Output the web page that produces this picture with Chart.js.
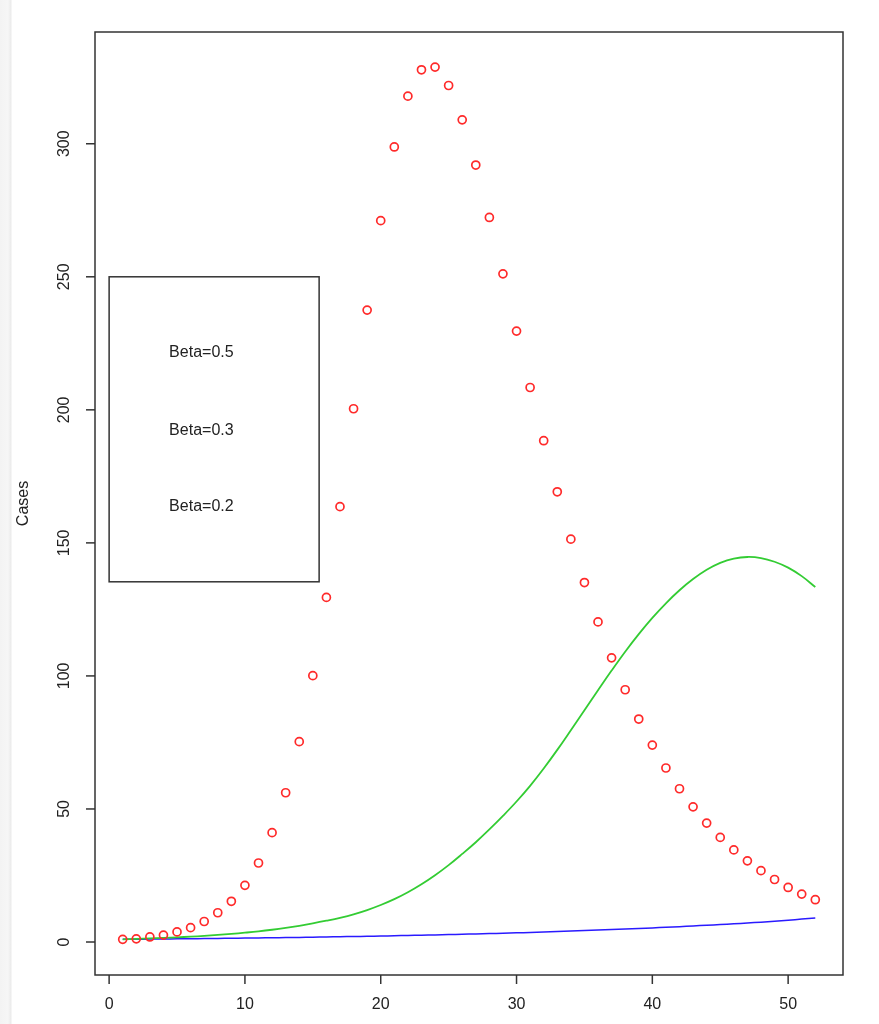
<!DOCTYPE html>
<html lang="en">
<head>
    <meta charset="UTF-8">
    <title>Cases</title>
    <script src="https://cdn.jsdelivr.net/npm/chart.js"></script>
    <style>
        html, body { margin: 0; padding: 0; background: #fff; }
        body { width: 879px; height: 1024px; overflow: hidden; position: relative; }
        .edge {
            position: absolute; left: 0; top: 0; width: 12px; height: 1024px;
            background: linear-gradient(to right, #f3f3f3 0, #f6f6f6 8px, #ebebeb 11px, #fff 12px);
        }
        canvas { position: absolute; left: 0; top: 0; }
    </style>
</head>
<body>
    <div class="edge"></div>
    <canvas id="casesChart" width="879" height="1024"></canvas>
    <script>
    // days 1..52
    const days = Array.from({ length: 52 }, (_, i) => i + 1);

    // Beta=0.5 (red points)
    const beta05 = [1.0, 1.2, 1.9, 2.6, 3.8, 5.4, 7.7, 11.0, 15.3, 21.3,
        29.7, 41.1, 56.1, 75.3, 100.1, 129.5, 163.6, 200.4, 237.5, 271.1,
        298.8, 317.9, 327.8, 328.8, 321.9, 309.0, 292.0, 272.3, 251.1, 229.6,
        208.4, 188.4, 169.2, 151.4, 135.1, 120.3, 106.8, 94.8, 83.8, 74.0,
        65.4, 57.6, 50.8, 44.7, 39.3, 34.6, 30.5, 26.8, 23.5, 20.5,
        18.0, 15.9];

    // Beta=0.3 (green line)
    const beta03 = [1.0, 1.15, 1.33, 1.53, 1.76, 2.0, 2.3, 2.65, 3.05, 3.5,
        4.0, 4.6, 5.3, 6.1, 7.0, 8.0, 9.1, 10.4, 12.0, 13.9,
        16.1, 18.7, 21.7, 25.1, 28.9, 33.1, 37.5, 42.3, 47.4, 52.8,
        58.7, 65.2, 72.2, 79.6, 87.1, 94.6, 102.0, 109.1, 115.7, 121.8,
        127.3, 132.2, 136.4, 139.9, 142.5, 144.1, 144.7, 144.3, 142.9, 140.7,
        137.5, 133.4];

    // Beta=0.2 (blue line)
    const beta02 = [1.00, 1.04, 1.09, 1.14, 1.19, 1.24, 1.29, 1.35, 1.41, 1.47,
        1.53, 1.60, 1.67, 1.74, 1.82, 1.90, 1.98, 2.07, 2.16, 2.25,
        2.35, 2.45, 2.56, 2.67, 2.79, 2.91, 3.04, 3.17, 3.31, 3.45,
        3.60, 3.76, 3.93, 4.10, 4.28, 4.47, 4.66, 4.87, 5.08, 5.30,
        5.53, 5.77, 6.03, 6.29, 6.56, 6.85, 7.15, 7.46, 7.79, 8.2,
        8.6, 9.0];

    const xTicks = [0, 10, 20, 30, 40, 50];
    const yTicks = [0, 50, 100, 150, 200, 250, 300];
    const legendLabels = ['Beta=0.5', 'Beta=0.3', 'Beta=0.2'];
    const yTitle = 'Cases';

    const toXY = arr => arr.map((v, i) => ({ x: days[i], y: v }));
    const FONT = '16px "Liberation Sans", Arial, sans-serif';

    // R-style box, axes and legend
    const rAxes = {
        id: 'rAxes',
        afterDraw(chart) {
            const { ctx, chartArea: a, scales: { x, y } } = chart;
            ctx.save();
            ctx.strokeStyle = '#333';
            ctx.lineWidth = 1.5;
            ctx.strokeRect(a.left, a.top, a.right - a.left, a.bottom - a.top);

            ctx.fillStyle = '#222';
            ctx.font = FONT;
            // x ticks
            ctx.textAlign = 'center';
            ctx.textBaseline = 'middle';
            xTicks.forEach(t => {
                const px = x.getPixelForValue(t);
                ctx.beginPath();
                ctx.moveTo(px, a.bottom);
                ctx.lineTo(px, a.bottom + 9);
                ctx.stroke();
                ctx.fillText(String(t), px, a.bottom + 30);
            });
            // y ticks
            yTicks.forEach(t => {
                const py = y.getPixelForValue(t);
                ctx.beginPath();
                ctx.moveTo(a.left, py);
                ctx.lineTo(a.left - 9, py);
                ctx.stroke();
                ctx.save();
                ctx.translate(a.left - 30, py);
                ctx.rotate(-Math.PI / 2);
                ctx.fillText(String(t), 0, 0);
                ctx.restore();
            });
            // y title
            ctx.save();
            ctx.translate(24, (a.top + a.bottom) / 2);
            ctx.rotate(-Math.PI / 2);
            ctx.fillText(yTitle, 0, 0);
            ctx.restore();

            // legend box at (0, 250)
            const lx = x.getPixelForValue(0);
            const ly = y.getPixelForValue(250);
            ctx.lineWidth = 1.5;
            ctx.strokeRect(lx, ly, 210, 305);
            ctx.textAlign = 'left';
            const rows = [ly + 76, ly + 154, ly + 230];
            legendLabels.forEach((txt, i) => ctx.fillText(txt, lx + 60, rows[i]));
            ctx.restore();
        }
    };

    const ctx = document.getElementById('casesChart').getContext('2d');
    new Chart(ctx, {
        type: 'scatter',
        data: {
            datasets: [
                {
                    label: 'Beta=0.5',
                    data: toXY(beta05),
                    showLine: false,
                    pointStyle: 'circle',
                    pointRadius: 4,
                    pointBorderWidth: 1.7,
                    pointBorderColor: '#ff2a2a',
                    pointBackgroundColor: 'rgba(0,0,0,0)'
                },
                {
                    label: 'Beta=0.3',
                    data: toXY(beta03),
                    showLine: true,
                    borderColor: '#33cc33',
                    borderWidth: 1.8,
                    pointRadius: 0,
                    tension: 0.4
                },
                {
                    label: 'Beta=0.2',
                    data: toXY(beta02),
                    showLine: true,
                    borderColor: '#2a1aff',
                    borderWidth: 1.5,
                    pointRadius: 0,
                    tension: 0.4
                }
            ]
        },
        options: {
            responsive: false,
            animation: false,
            layout: { padding: { left: 95, right: 36, top: 32, bottom: 49 } },
            plugins: {
                legend: { display: false },
                tooltip: { enabled: false }
            },
            scales: {
                x: { type: 'linear', min: -1.04, max: 54.04, display: false },
                y: { type: 'linear', min: -12.4, max: 342, display: false }
            }
        },
        plugins: [rAxes]
    });
    </script>
</body>
</html>
